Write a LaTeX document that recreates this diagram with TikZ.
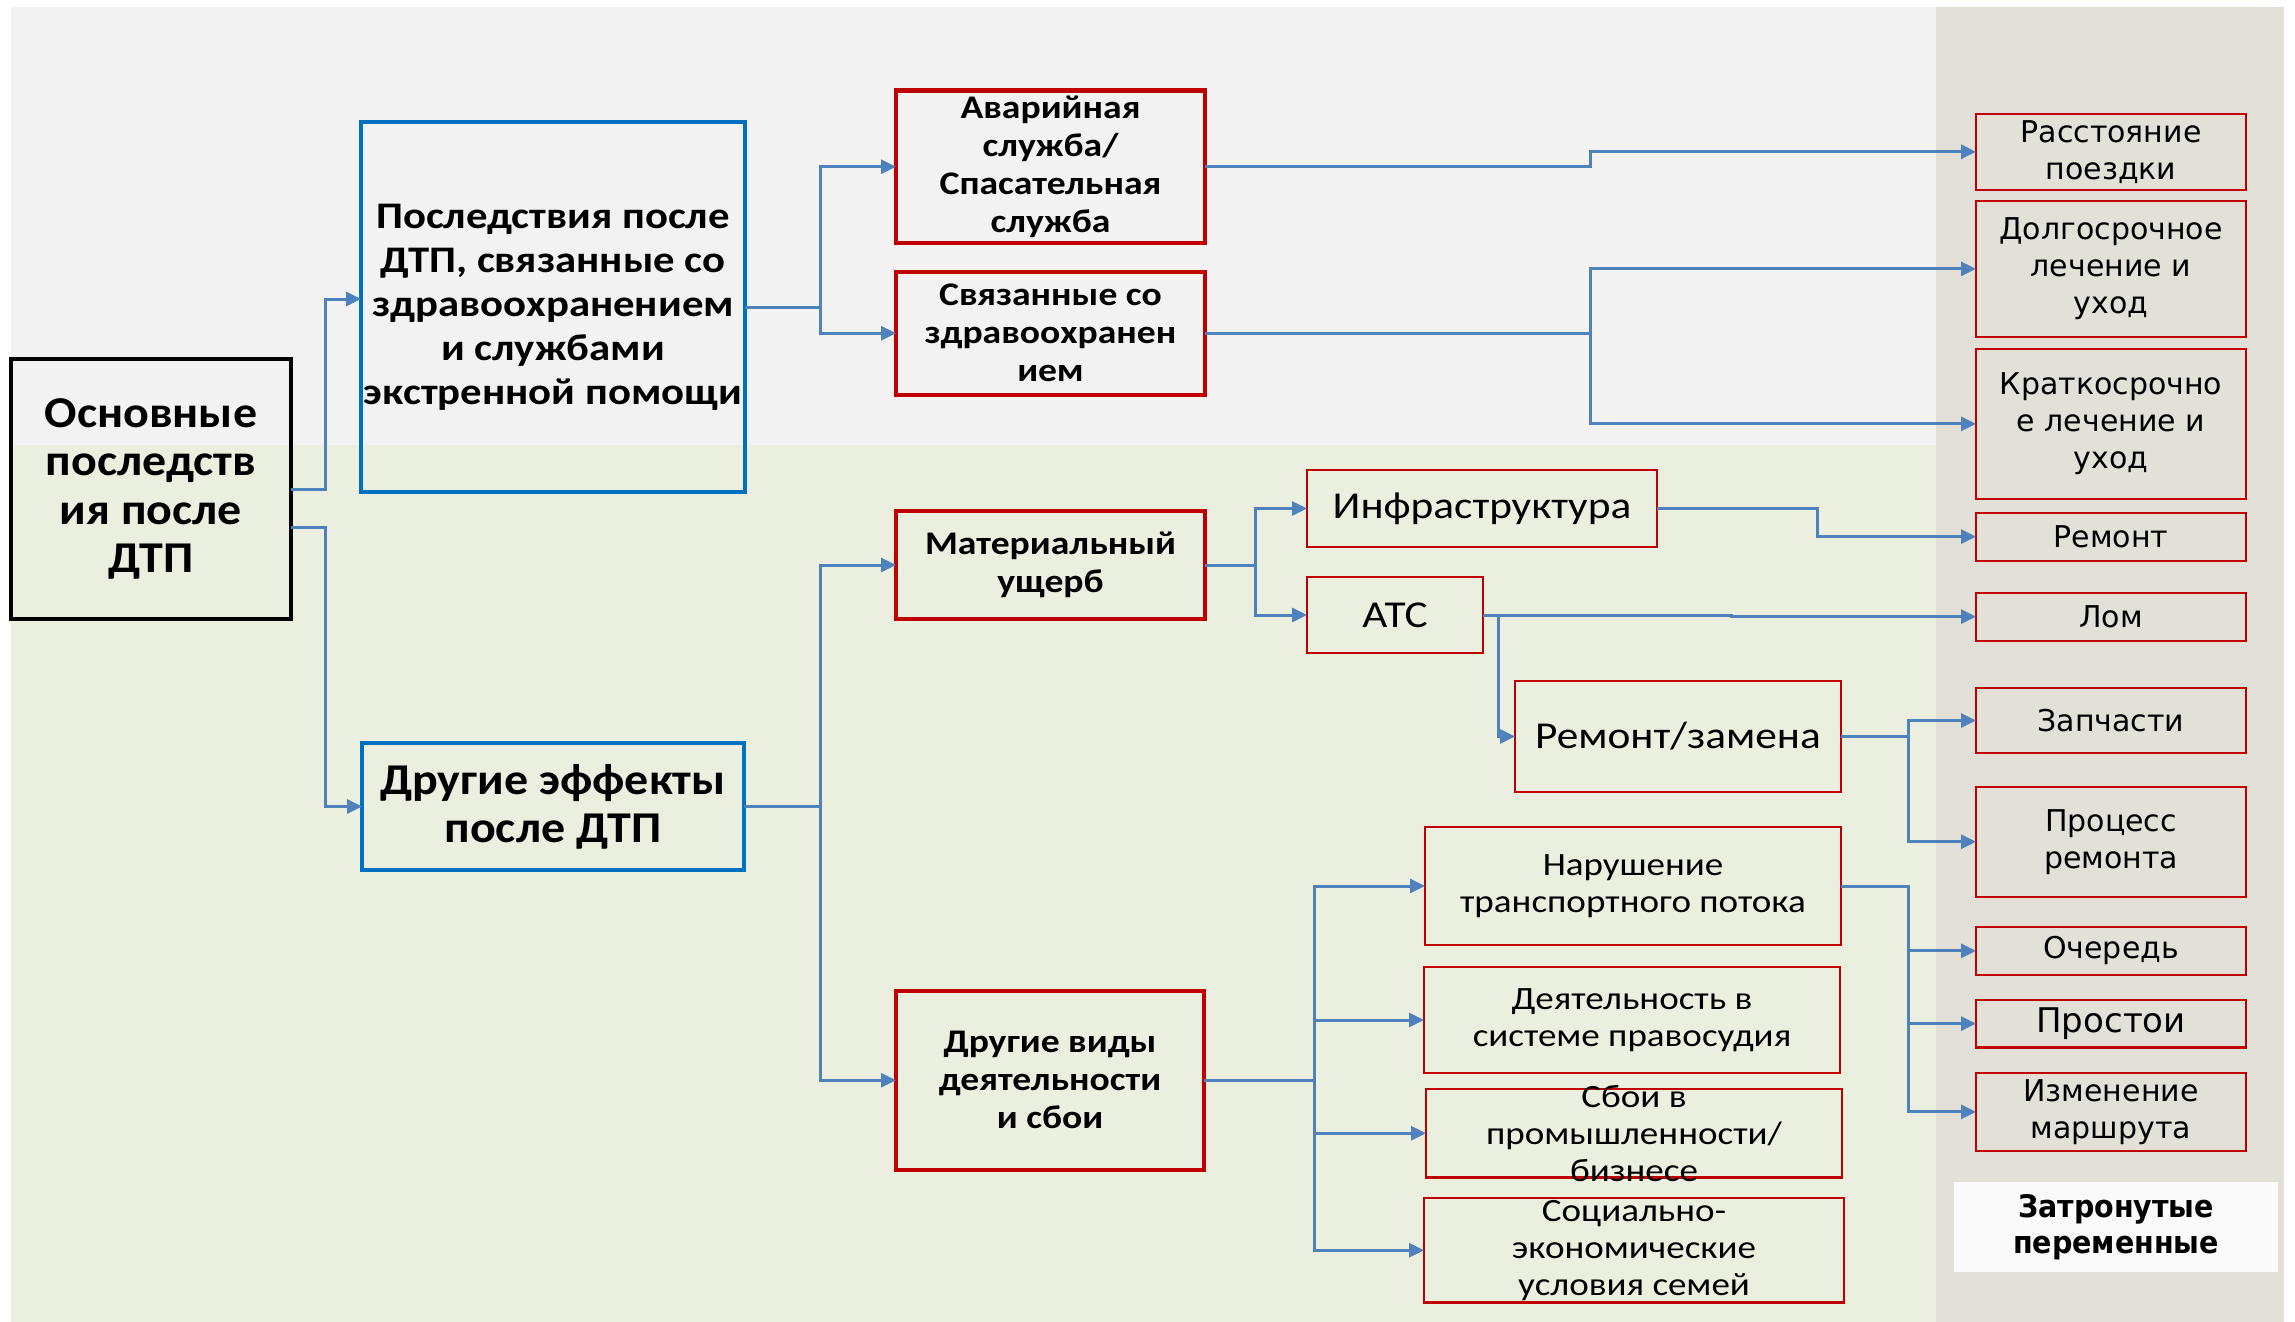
\documentclass[tikz,border=0pt]{standalone}
\usepackage{fontspec}
\setmainfont{Carlito}[FakeStretch=1.14]
\newfontfamily\cwide{Carlito}[FakeStretch=1.09]
\newfontfamily\vfont{DejaVu Sans}
\newfontfamily\vnarrow{DejaVu Sans}[FakeStretch=0.92]
\usetikzlibrary{arrows.meta}
\definecolor{bgtop}{HTML}{F2F2F2}
\definecolor{bggreen}{HTML}{EBEFDF}
\definecolor{bgtan}{HTML}{E3E0D8}
\definecolor{boxred}{HTML}{C00000}
\definecolor{boxblue}{HTML}{0070C0}
\definecolor{conncol}{HTML}{4F81BD}
\definecolor{zwhite}{HTML}{FAFAFA}
\newcommand{\mybox}[8]{%
  \node[#6, minimum width={(#4)-(#2)}, minimum height={(#5)-(#3)}] (#1) at (#2,#3) {};
  \node[txt, font={#7}] (#1-t) at (#1.center) {#8};
}
\begin{document}
\begin{tikzpicture}[x=1pt,y=-1pt,
  frame/.style={draw, rectangle, inner sep=0pt, outer sep=0pt, anchor=north west},
  blk/.style={frame, draw=black, line width=4pt},
  blu/.style={frame, draw=boxblue, line width=4pt},
  redb/.style={frame, draw=boxred, line width=4pt},
  redn/.style={frame, draw=boxred, line width=2.2pt},
  zbox/.style={rectangle, fill=zwhite, inner sep=0pt, outer sep=0pt, anchor=north west},
  conn/.style={draw=conncol, line width=3pt, -{Triangle[length=15pt,width=14pt]}},
  txt/.style={inner sep=0pt, align=center, text=black}
]
\useasboundingbox (0,0) rectangle (2295,1322);
\fill[white] (0,0) rectangle (2295,1322);
\fill[bgtop] (11,7) rectangle (1936,445);
\fill[bggreen] (11,445) rectangle (1936,1322);
\fill[bgtan] (1936,7) rectangle (2284,1322);

% left column
\mybox{osn}{11}{359}{291}{619}{blk}{\cwide\fontsize{44}{48.5}\selectfont\bfseries}{Основные\\последств\\ия после\\ДТП}
\mybox{b1}{361}{122}{745}{492}{blu}{\fontsize{37.5}{44}\selectfont\bfseries}{Последствия после\\ДТП, связанные со\\здравоохранением\\и службами\\экстренной помощи}
\mybox{b2}{362}{743}{744}{870}{blu}{\cwide\fontsize{44}{48}\selectfont\bfseries}{Другие эффекты\\после ДТП}

% second column
\mybox{avar}{896}{90.5}{1205}{243}{redb}{\fontsize{33}{38}\selectfont\bfseries}{Аварийная\\служба/\\Спасательная\\служба}
\mybox{svyaz}{896}{271.5}{1205}{395}{redb}{\fontsize{33}{38}\selectfont\bfseries}{Связанные со\\здравоохранен\\ием}
\mybox{mat}{896}{511}{1205}{619}{redb}{\fontsize{33}{38}\selectfont\bfseries}{Материальный\\ущерб}
\mybox{drug}{896}{991}{1204}{1169.5}{redb}{\fontsize{33}{38}\selectfont\bfseries}{Другие виды\\деятельности\\и сбои}

% third column
\mybox{infra}{1307}{470}{1657}{547}{redn}{\fontsize{38}{44}\selectfont}{Инфраструктура}
\mybox{ats}{1307}{577}{1483}{653}{redn}{\fontsize{38}{44}\selectfont}{АТС}
\mybox{remz}{1515}{681}{1841}{792}{redn}{\fontsize{38}{44}\selectfont}{Ремонт/замена}
\mybox{narush}{1425}{827}{1841}{945}{redn}{\fontsize{32.5}{37}\selectfont}{Нарушение\\транспортного потока}
\mybox{deyat}{1424}{967}{1840}{1073}{redn}{\fontsize{32.5}{37}\selectfont}{Деятельность в\\системе правосудия}
\mybox{sboi}{1426}{1089}{1842}{1177.5}{redn}{\fontsize{32.5}{37}\selectfont}{Сбои в\\промышленности/\\бизнесе}
\mybox{soc}{1424}{1198}{1844}{1302.5}{redn}{\fontsize{32.5}{37}\selectfont}{Социально-\\экономические\\условия семей}

% right column
\mybox{rast}{1976}{113.6}{2246}{190}{redn}{\vfont\fontsize{30}{37}\selectfont}{Расстояние\\поездки}
\mybox{dolg}{1976}{201}{2246}{336.7}{redn}{\vfont\fontsize{30}{37}\selectfont}{Долгосрочное\\лечение и\\уход}
\mybox{krat}{1976}{349}{2246}{498.7}{redn}{\vfont\fontsize{30}{37}\selectfont}{Краткосрочно\\е лечение и\\уход}
\mybox{rem}{1976}{512.6}{2246}{560.6}{redn}{\vfont\fontsize{30}{37}\selectfont}{Ремонт}
\mybox{lom}{1976}{592.6}{2246}{640.6}{redn}{\vfont\fontsize{30}{37}\selectfont}{Лом}
\mybox{zap}{1976}{688}{2246}{753}{redn}{\vfont\fontsize{30}{37}\selectfont}{Запчасти}
\mybox{proc}{1976}{786.6}{2246}{896.8}{redn}{\vfont\fontsize{30}{37}\selectfont}{Процесс\\ремонта}
\mybox{och}{1976}{926.8}{2246}{975}{redn}{\vfont\fontsize{30}{37}\selectfont}{Очередь}
\mybox{prost}{1976}{999.8}{2246}{1047.5}{redn}{\vfont\fontsize{34}{40}\selectfont}{Простои}
\mybox{izm}{1976}{1072.8}{2246}{1151}{redn}{\vfont\fontsize{30}{37}\selectfont}{Изменение\\маршрута}
\mybox{zatr}{1954}{1182}{2278}{1272}{zbox}{\vnarrow\bfseries\fontsize{31}{36}\selectfont}{Затронутые\\переменные}

% connectors
\draw[conn] (osn.east) -- ++(34,0) |- ([yshift=8pt]b1.west);
\draw[conn] ([yshift=-38pt]osn.east) -- ++(34,0) |- (b2.west);

\draw[conn] (b1.east) -- ++(75,0) |- (avar.west);
\draw[conn] (b1.east) -- ++(75,0) |- (svyaz.west);
\draw[conn] (b2.east) -- ++(76,0) |- (mat.west);
\draw[conn] (b2.east) -- ++(76,0) |- (drug.west);

\draw[conn] (avar.east) -- ++(385,0) |- (rast.west);
\draw[conn] (svyaz.east) -- ++(385,0) |- (dolg.west);
\draw[conn] (svyaz.east) -- ++(385,0) |- (krat.west);

\draw[conn] (mat.east) -- ++(50,0) |- (infra.west);
\draw[conn] (mat.east) -- ++(50,0) |- (ats.west);

\draw[conn] (infra.east) -- ++(160,0) |- (rem.west);
\draw[conn] (ats.east) -- ++(248,0) |- (lom.west);
\draw[conn] (ats.east) -- ++(15,0) |- (remz.west);

\draw[conn] (remz.east) -- ++(67,0) |- (zap.west);
\draw[conn] (remz.east) -- ++(67,0) |- (proc.west);

\draw[conn] (narush.east) -- ++(67,0) |- (och.west);
\draw[conn] (narush.east) -- ++(67,0) |- (prost.west);
\draw[conn] (narush.east) -- ++(67,0) |- (izm.west);

\draw[conn] (drug.east) -- ++(110,0) |- (narush.west);
\draw[conn] (drug.east) -- ++(110,0) |- (deyat.west);
\draw[conn] (drug.east) -- ++(110,0) |- (sboi.west);
\draw[conn] (drug.east) -- ++(110,0) |- (soc.west);
\end{tikzpicture}
\end{document}
